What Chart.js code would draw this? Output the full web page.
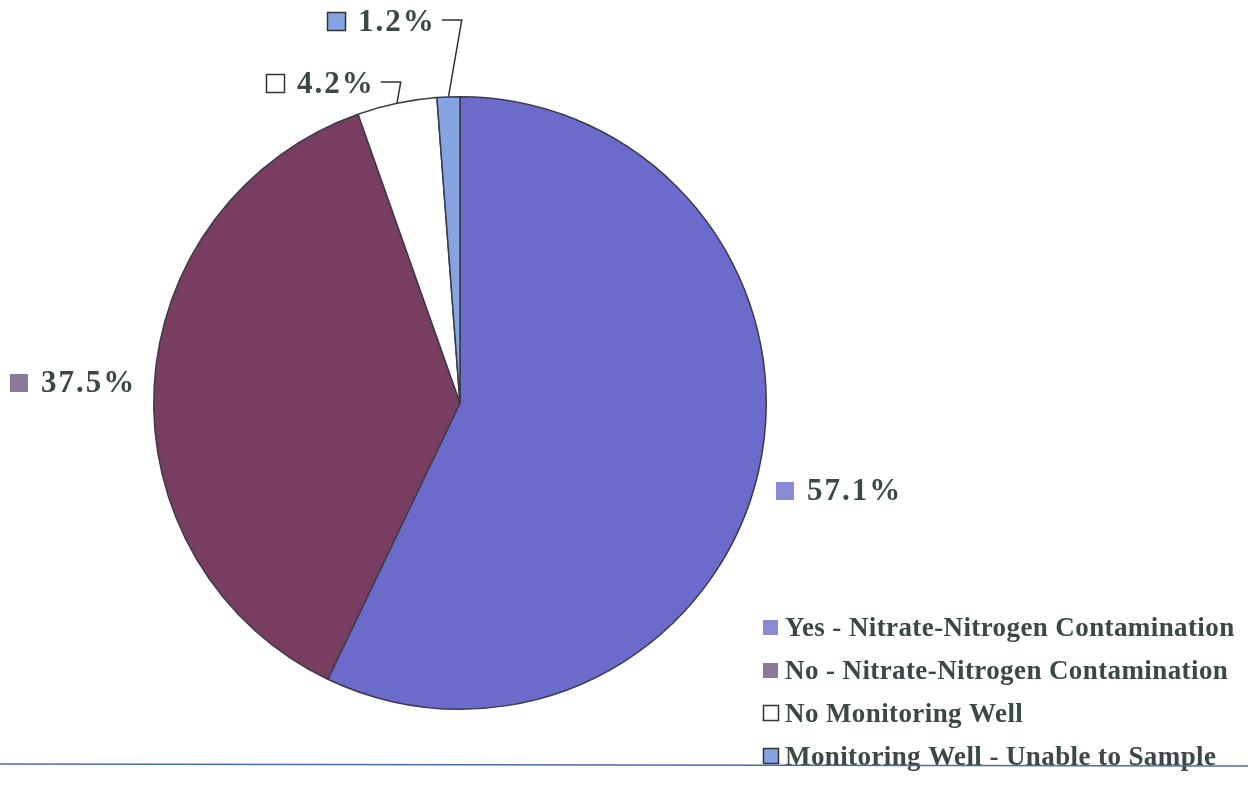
<!DOCTYPE html>
<html>
<head>
<meta charset="utf-8">
<script src="https://cdn.jsdelivr.net/npm/chart.js@4"></script>
<style>
  html, body { margin: 0; padding: 0; background: #fff; }
  #wrap { width: 1248px; height: 787px; position: relative; }
</style>
</head>
<body>
<div id="wrap"><canvas id="pieChart" width="1248" height="787"></canvas></div>
<script>
const categories = [
  'Yes - Nitrate-Nitrogen Contamination',
  'No - Nitrate-Nitrogen Contamination',
  'No Monitoring Well',
  'Monitoring Well - Unable to Sample'
];
const shares = [57.1, 37.5, 4.2, 1.2];
const colors = ['#6b6bcc', '#7a3d62', '#ffffff', '#86a4e2'];
const swatchColors = ['#8a8ad2', '#8a7a98', '#ffffff', '#86a4e2'];

const textColor = '#3b4848';
const labelFont = 'bold 31px "Liberation Serif", "DejaVu Serif", serif';
const legendFont = 'bold 27px "Liberation Serif", "DejaVu Serif", serif';

// value labels beside slices, with leader lines for the thin ones
const labelPlugin = {
  id: 'sliceLabels',
  afterDraw(chart) {
    const ctx = chart.ctx;
    const arcs = chart.getDatasetMeta(0).data;
    const spots = [
      { x: 776, y: 491 },
      { x: 10, y: 383 },
      { x: 266, y: 84 },
      { x: 327, y: 22 }
    ];
    ctx.save();
    ctx.font = labelFont;
    ctx.letterSpacing = '2px';
    ctx.textBaseline = 'middle';
    shares.forEach((v, i) => {
      const s = spots[i];
      ctx.fillStyle = swatchColors[i];
      ctx.fillRect(s.x, s.y - 9, 18, 18);
      if (i >= 2) {
        ctx.strokeStyle = '#333';
        ctx.lineWidth = 1.5;
        ctx.strokeRect(s.x + 0.5, s.y - 9.5, 18, 18);
      }
      ctx.fillStyle = textColor;
      ctx.textAlign = 'left';
      const txt = v.toFixed(1) + '%';
      ctx.fillText(txt, s.x + 31, s.y + 1);

      if (i >= 2) {
        const a = arcs[i];
        const mid = (a.startAngle + a.endAngle) / 2;
        const ex = a.x + Math.cos(mid) * a.outerRadius;
        const ey = a.y + Math.sin(mid) * a.outerRadius;
        const w = ctx.measureText(txt).width;
        const lx = s.x + 31 + w + 6;
        ctx.strokeStyle = '#333';
        ctx.lineWidth = 1.5;
        ctx.beginPath();
        ctx.moveTo(lx, s.y - 2);
        ctx.lineTo(lx + 20, s.y - 2);
        ctx.lineTo(ex, ey);
        ctx.stroke();
      }
    });
    ctx.restore();
  }
};

// legend block bottom right plus the rule line
const legendPlugin = {
  id: 'sideLegend',
  afterDraw(chart) {
    const ctx = chart.ctx;
    ctx.save();
    ctx.font = legendFont;
    ctx.letterSpacing = '0.4px';
    ctx.textBaseline = 'middle';
    const x0 = 763, y0 = 628, step = 43;
    categories.forEach((c, i) => {
      const y = y0 + i * step;
      ctx.fillStyle = swatchColors[i];
      ctx.fillRect(x0, y - 8, 15, 15);
      if (i >= 2) {
        ctx.strokeStyle = '#333';
        ctx.lineWidth = 1.5;
        ctx.strokeRect(x0 + 0.5, y - 8.5, 15, 15);
      }
      ctx.fillStyle = textColor;
      ctx.fillText(c, x0 + 22, y + 1);
    });
    ctx.strokeStyle = '#4a6aa8';
    ctx.lineWidth = 1.5;
    ctx.beginPath();
    ctx.moveTo(0, 764);
    ctx.lineTo(1248, 766);
    ctx.stroke();
    ctx.restore();
  }
};

new Chart(document.getElementById('pieChart').getContext('2d'), {
  type: 'pie',
  data: {
    labels: categories,
    datasets: [{
      data: shares,
      backgroundColor: colors,
      borderColor: '#3a3a4a',
      borderWidth: 1.5
    }]
  },
  options: {
    responsive: false,
    animation: false,
    layout: { padding: { left: 152, right: 480, top: 96, bottom: 77 } },
    plugins: {
      legend: { display: false },
      tooltip: { enabled: false }
    }
  },
  plugins: [labelPlugin, legendPlugin]
});
</script>
</body>
</html>
